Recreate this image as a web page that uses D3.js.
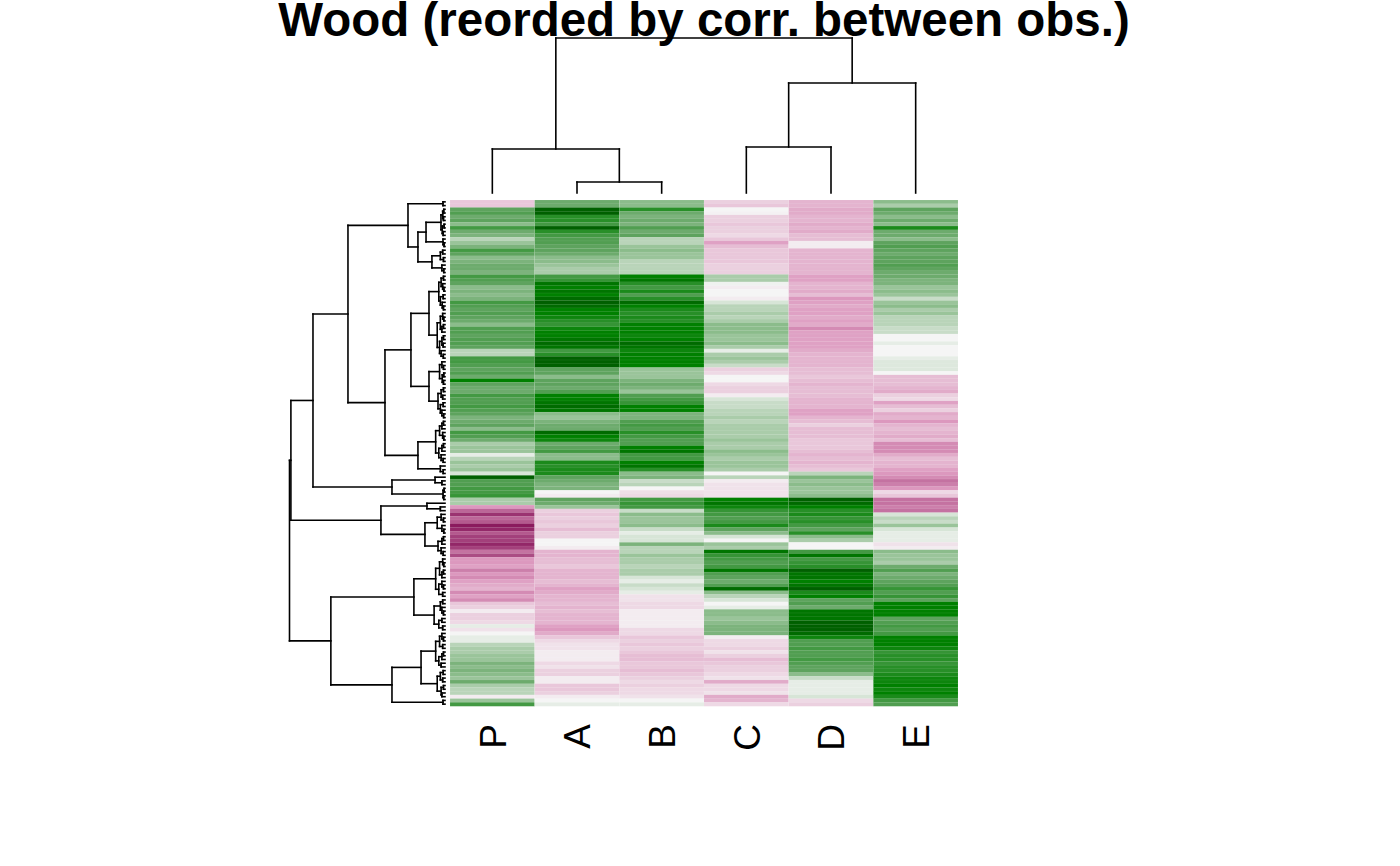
<!DOCTYPE html>
<html>
<head>
<meta charset="utf-8">
<script src="https://cdn.jsdelivr.net/npm/d3@7"></script>
<style>
  body { margin: 0; background: #fff; }
  svg { display: block; }
  .dendro { fill: none; stroke: #000; stroke-width: 1.6; stroke-linecap: square; }
</style>
</head>
<body>
<svg width="1400" height="866"></svg>
<script>
// Column labels, in the order they are drawn
const columns = ["P", "A", "B", "C", "D", "E"];

// Values per column, rows top to bottom (reordered), roughly -1 .. 1
const valP = [
  -0.25, -0.25, 0.5, 0.55, 0.45, 0.5, 0.35, 0.6, 0.45, 0.4, 0.2, 0.3, 0.4, 0.6, 0.5, 0.35, 0.4, 0.45, 0.45, 0.4, 0.6, 0.55,
  0.5, 0.35, 0.4, 0.35, 0.4, 0.6, 0.55, 0.5, 0.55, 0.5, 0.45, 0.35, 0.55, 0.55, 0.5, 0.55, 0.55, 0.5, 0.2, 0.2, 0.6, 0.6,
  0.55, 0.5, 0.55, 0.45, 0.85, 0.5, 0.45, 0.45, 0.6, 0.55, 0.55, 0.6, 0.55, 0.5, 0.4, 0.45, 0.5, 0.35, 0.6, 0.55, 0.45, 0.25, 0.3,
  0.3, 0.05, 0.2, 0.3, 0.25, 0.3, 0.1, 1.0, 0.55, 0.55, 0.6, 0.6, 0.65, 0.25, 0.25, -0.5, -0.7, -0.9, -0.7, -0.75, -1.0, -0.95, -0.75,
  -0.85, -0.85, -0.95, -0.85, -0.65, -0.8, -0.5, -0.5, -0.45, -0.6, -0.5, -0.55, -0.45, -0.4, -0.35, -0.55, -0.45, -0.55, -0.25, -0.2, -0.05, -0.2,
  -0.2, -0.15, 0.05, -0.1, 0.0, 0.05, 0.05, 0.2, 0.25, 0.25, 0.3, 0.3, 0.4, 0.35, 0.4, 0.35, 0.3, 0.45, 0.25, 0.2, 0.2, -0.05, 0.3, 0.6
];
const valA = [
  0.45, 0.45, 1.0, 1.0, 0.7, 0.7, 0.6, 1.0, 0.7, 0.6, 0.55, 0.55, 0.5, 0.5, 0.45, 0.35, 0.35, 0.3, 0.25, 0.25, 0.6, 0.65,
  0.9, 0.85, 0.9, 0.85, 0.95, 1.0, 0.95, 0.85, 0.85, 0.8, 0.7, 0.65, 0.8, 0.85, 0.85, 0.9, 0.95, 0.9, 0.6, 0.7, 1.0, 1.0,
  1.0, 0.5, 0.5, 0.35, 0.5, 0.5, 0.45, 0.55, 0.85, 0.85, 0.9, 0.95, 0.9, 0.35, 0.3, 0.4, 0.45, 0.45, 0.95, 0.85, 0.8, 0.45, 0.5,
  0.6, 0.35, 0.35, 0.75, 0.7, 0.75, 0.75, 0.5, 0.45, 0.4, 0.4, 0.0, -0.05, 0.5, 0.45, 0.3, -0.2, -0.25, -0.2, -0.25, -0.2, -0.3, -0.2,
  -0.2, 0.0, 0.0, -0.05, -0.35, -0.35, -0.3, -0.3, -0.25, -0.35, -0.35, -0.35, -0.3, -0.35, -0.45, -0.4, -0.35, -0.35, -0.3, -0.35, -0.3, -0.35,
  -0.35, -0.35, -0.45, -0.5, -0.4, -0.25, -0.15, -0.1, -0.1, -0.05, -0.05, -0.05, -0.15, -0.1, -0.2, -0.2, -0.05, -0.05, -0.25, -0.25, -0.2, -0.05, 0.0, 0.05
];
const valB = [
  0.35, 0.35, 0.7, 0.45, 0.4, 0.45, 0.4, 0.55, 0.45, 0.5, 0.2, 0.2, 0.3, 0.35, 0.3, 0.3, 0.2, 0.2, 0.2, 0.2, 0.85, 0.9,
  0.7, 0.6, 0.75, 0.55, 0.7, 0.95, 0.85, 0.75, 0.7, 0.75, 0.7, 0.85, 0.85, 0.85, 0.8, 0.85, 0.95, 0.9, 0.8, 0.85, 0.85, 0.85,
  0.85, 0.3, 0.3, 0.3, 0.4, 0.45, 0.4, 0.3, 0.55, 0.6, 0.65, 0.85, 0.85, 0.4, 0.4, 0.55, 0.6, 0.55, 0.7, 0.6, 0.55, 0.55, 0.85,
  0.9, 0.6, 0.6, 0.85, 0.9, 0.7, 0.35, 0.4, 0.15, 0.2, 0.0, -0.12, -0.15, 0.6, 0.65, 0.6, 0.15, 0.35, 0.3, 0.3, 0.35, 0.15, 0.05,
  0.1, 0.1, 0.4, 0.2, 0.2, 0.3, 0.25, 0.25, 0.2, 0.25, 0.25, 0.1, 0.05, 0.15, 0.1, 0.05, -0.1, -0.1, -0.15, -0.15, -0.05, -0.05,
  -0.05, -0.05, -0.05, -0.15, -0.15, -0.25, -0.2, -0.25, -0.2, -0.25, -0.3, -0.3, -0.25, -0.25, -0.3, -0.25, -0.2, -0.15, -0.2, -0.15, -0.15, -0.1, 0.0, 0.05
];
const valC = [
  -0.2, -0.25, 0.0, -0.02, -0.2, -0.2, -0.25, -0.2, -0.2, -0.15, -0.25, -0.45, -0.3, -0.25, -0.25, -0.25, -0.25, -0.2, -0.2, -0.2, 0.25, 0.25,
  0.02, -0.05, 0.0, 0.0, -0.05, 0.1, 0.2, 0.2, 0.25, 0.2, 0.25, 0.35, 0.35, 0.35, 0.3, 0.3, 0.35, 0.25, 0.05, 0.25, 0.3, 0.25,
  0.15, -0.2, -0.15, 0.0, 0.0, -0.15, -0.2, -0.2, -0.05, 0.1, 0.15, 0.15, 0.2, 0.2, 0.25, 0.2, 0.25, 0.25, 0.25, 0.25, 0.3, 0.25, 0.25,
  0.35, 0.3, 0.25, 0.3, 0.3, 0.25, 0.0, 0.2, -0.05, -0.1, -0.1, -0.1, -0.1, 0.85, 0.9, 0.8, 0.65, 0.6, 0.55, 0.6, 0.75, 0.5, 0.35,
  0.1, 0.0, 0.3, 0.25, 0.9, 0.65, 0.6, 0.55, 0.6, 0.9, 0.55, 0.5, 0.45, 0.55, 0.95, 0.35, 0.2, 0.1, 0.0, 0.05, 0.35, 0.35,
  0.3, 0.35, 0.4, 0.4, 0.4, -0.05, -0.15, -0.15, -0.2, -0.1, -0.2, -0.3, -0.25, -0.2, -0.2, -0.15, -0.1, -0.4, -0.15, -0.15, -0.1, -0.4, -0.35, -0.15
];
const valD = [
  -0.35, -0.35, -0.4, -0.4, -0.35, -0.35, -0.4, -0.35, -0.4, -0.3, -0.3, -0.05, -0.05, -0.35, -0.35, -0.35, -0.35, -0.35, -0.35, -0.35, -0.45, -0.45,
  -0.35, -0.35, -0.4, -0.3, -0.5, -0.45, -0.4, -0.45, -0.45, -0.4, -0.45, -0.4, -0.55, -0.45, -0.45, -0.45, -0.45, -0.45, -0.4, -0.35, -0.35, -0.35,
  -0.35, -0.3, -0.3, -0.25, -0.3, -0.35, -0.3, -0.3, -0.3, -0.35, -0.35, -0.35, -0.45, -0.45, -0.35, -0.3, -0.2, -0.3, -0.3, -0.3, -0.25, -0.25, -0.25,
  -0.3, -0.35, -0.3, -0.35, -0.3, -0.25, 0.2, 0.4, 0.3, 0.35, 0.3, 0.3, 0.35, 1.0, 0.95, 0.85, 0.7, 0.75, 0.65, 0.7, 0.6, 0.5, 0.7,
  0.35, 0.25, 0.0, 0.0, 0.6, 0.9, 0.6, 0.65, 0.7, 1.0, 0.9, 0.9, 0.85, 0.9, 1.0, 0.75, 0.85, 0.5, 0.55, 0.45, 0.9, 0.9,
  0.9, 1.0, 1.0, 1.0, 0.95, 0.8, 0.55, 0.55, 0.6, 0.55, 0.55, 0.6, 0.55, 0.5, 0.5, 0.35, 0.15, 0.05, 0.05, 0.05, 0.05, 0.1, -0.15, -0.2
];
const valE = [
  0.35, 0.25, 0.5, 0.45, 0.35, 0.45, 0.35, 0.75, 0.45, 0.45, 0.35, 0.5, 0.55, 0.5, 0.45, 0.5, 0.5, 0.55, 0.5, 0.45, 0.45, 0.4,
  0.4, 0.3, 0.35, 0.3, 0.15, 0.3, 0.35, 0.25, 0.3, 0.2, 0.2, 0.2, 0.15, 0.15, 0.0, 0.0, 0.05, 0.0, 0.0, 0.0, 0.05, 0.08,
  0.08, 0.08, 0.0, -0.3, -0.3, -0.3, -0.35, -0.4, -0.2, -0.15, -0.45, -0.3, -0.2, -0.4, -0.35, -0.5, -0.35, -0.3, -0.35, -0.4, -0.3, -0.55, -0.55,
  -0.55, -0.4, -0.3, -0.35, -0.35, -0.45, -0.5, -0.55, -0.65, -0.6, -0.5, -0.15, -0.25, -0.65, -0.65, -0.6, -0.65, 0.1, 0.2, 0.15, 0.3, 0.1, 0.05,
  0.05, 0.05, -0.1, -0.05, 0.35, 0.3, 0.3, 0.25, 0.45, 0.55, 0.4, 0.45, 0.5, 0.55, 0.65, 0.55, 0.65, 0.5, 0.85, 0.85, 0.85, 0.85,
  0.5, 0.55, 0.6, 0.55, 0.6, 0.85, 0.85, 0.85, 0.8, 0.65, 0.7, 0.7, 0.65, 0.7, 0.7, 0.75, 0.8, 0.8, 0.85, 0.8, 0.85, 0.75, 0.6, 0.55
];

// Column dendrogram: [height, left, right], leaves are column indexes
const colTree = [1.0, [0.284, 0, [0.071, 1, 2]], [0.71, [0.297, 3, 4], 5]];

// Row dendrogram: [height, left, right], leaves are row indexes
const rowTree =
[1.0,
  [0.991,
    [0.849,
      [0.624,
        [0.238,
          [0.013, 0, 1],
          [0.174,
            [0.122,
              [0.026, [0.015, [0.008, 2, 3], [0.01, 4, 5]], [0.018, [0.006, 6, 7], [0.012, 8, 9]]],
              [0.013, 10, [0.006, 11, 12]]],
            [0.084,
              [0.03, [0.015, 13, 14], [0.01, 15, 16]],
              [0.02, 17, [0.008, 18, 19]]]]],
        [0.386,
          [0.219,
            [0.103,
              [0.04, [0.025, [0.01, 20, 21], [0.015, 22, [0.007, 23, 24]]], [0.03, [0.012, 25, 26], [0.018, 27, [0.01, 28, 29]]]],
              [0.05, [0.03, [0.015, 30, [0.008, 31, 32]], [0.02, [0.01, 33, 34], 35]], [0.035, [0.02, [0.01, 36, 37], [0.012, 38, 39]], [0.025, 40, [0.011, 41, 42]]]]],
            [0.103,
              [0.035, [0.02, 43, [0.01, 44, 45]], [0.018, [0.008, 46, 47], [0.01, 48, 49]]],
              [0.045, [0.025, [0.01, 50, 51], [0.015, 52, 53]], [0.03, [0.012, 54, 55], [0.02, 56, [0.009, 57, 58]]]]]],
          [0.174,
            [0.06, [0.035, [0.02, [0.01, 59, 60], 61], [0.015, 62, [0.008, 63, 64]]], [0.04, [0.02, [0.01, 65, 66], 67], [0.025, 68, [0.012, 69, 70]]]],
            [0.03, 71, [0.012, 72, 73]]]]],
      [0.341,
        [0.064, 74, [0.02, 75, 76]],
        [0.013, [0.006, 77, 78], [0.008, 79, 80]]]],
    [0.412,
      [0.116, 81, [0.03, 82, 83]],
      [0.129,
        [0.05, [0.025, 84, [0.01, 85, 86]], [0.02, 87, [0.008, 88, 89]]],
        [0.045, [0.02, [0.01, 90, 91], 92], [0.025, 93, [0.012, 94, 95]]]]]],
  [0.734,
    [0.2,
      [0.06, [0.035, [0.015, 96, [0.008, 97, 98]], [0.02, [0.01, 99, 100], 101]], [0.04, [0.02, 102, [0.01, 103, 104]], [0.015, 105, 106]]],
      [0.07, [0.03, [0.015, 107, 108], [0.02, 109, [0.01, 110, 111]]], [0.04, [0.02, 112, 113], [0.015, 114, 115]]]],
    [0.341,
      [0.154,
        [0.06, [0.035, [0.02, 116, [0.01, 117, 118]], [0.015, 119, 120]], [0.04, [0.02, [0.01, 121, 122], 123], [0.025, 124, 125]]],
        [0.05, [0.03, [0.012, 126, 127], [0.015, 128, 129]], [0.025, [0.01, 130, 131], [0.02, 132, 133]]]],
      [0.013, 134, 135]]]];

const values = [valP, valA, valB, valC, valD, valE];
const rows = d3.range(valP.length);

const svg = d3.select("svg");
svg.append("rect").attr("width", 1400).attr("height", 866).attr("fill", "#fff");

// heatmap area
const x = d3.scaleBand().domain(d3.range(columns.length)).range([450, 958]);
const y = d3.scaleBand().domain(rows).range([200, 706]);

const color = d3.scaleLinear()
    .domain([-1, -0.5, 0, 0.5, 0.85, 1])
    .range(["#8b1a5e", "#dc98be", "#f5f5f5", "#5ea35e", "#008000", "#006000"])
    .clamp(true);

const cells = [];
values.forEach((col, c) => col.forEach((v, r) => cells.push({c, r, v})));

svg.append("g").selectAll("rect")
  .data(cells)
  .enter()
  .append("rect")
    .attr("x", d => x(d.c))
    .attr("y", d => y(d.r))
    .attr("width", x.bandwidth())
    .attr("height", y.bandwidth() + 0.3)
    .attr("fill", d => color(d.v))
    .attr("stroke", "#fff")
    .attr("stroke-opacity", 0.18)
    .attr("stroke-width", 0.4);

// dendrogram drawing: leaf axis position + height axis
function drawTree(g, tree, leafPos, hPos, horizontal) {
  const seg = (a1, h1, a2, h2) => horizontal
      ? g.append("line").attr("class", "dendro").attr("x1", hPos(h1)).attr("y1", a1).attr("x2", hPos(h2)).attr("y2", a2)
      : g.append("line").attr("class", "dendro").attr("x1", a1).attr("y1", hPos(h1)).attr("x2", a2).attr("y2", hPos(h2));

  function walk(node) {
    if (typeof node === "number") return {pos: leafPos(node), h: 0};
    const [h, l, r] = node;
    const a = walk(l), b = walk(r);
    seg(a.pos, h, b.pos, h);       // connecting bar
    seg(a.pos, h, a.pos, a.h);     // drop to left child
    seg(b.pos, h, b.pos, b.h);     // drop to right child
    return {pos: (a.pos + b.pos) / 2, h};
  }
  walk(tree);
}

const rowH = d3.scaleLinear().domain([0, 1]).range([445, 289.5]);
drawTree(svg.append("g"), rowTree, r => y(r) + y.bandwidth() / 2, rowH, true);

const colH = d3.scaleLinear().domain([0, 1]).range([193, 38]);
drawTree(svg.append("g"), colTree, c => x(c) + x.bandwidth() / 2, colH, false);

// column labels
svg.append("g").selectAll("text")
  .data(columns)
  .enter()
  .append("text")
    .attr("transform", (d, i) => `translate(${x(i) + x.bandwidth() / 2},724) rotate(-90)`)
    .attr("text-anchor", "end")
    .attr("dy", "0.36em")
    .attr("font-family", "Liberation Sans, Arial, Helvetica, sans-serif")
    .attr("font-size", 37)
    .text(d => d);

// title
svg.append("text")
  .attr("x", 704)
  .attr("y", 36)
  .attr("text-anchor", "middle")
  .attr("font-family", "Liberation Sans, Arial, Helvetica, sans-serif")
  .attr("font-weight", "bold")
  .attr("font-size", 47.5)
  .text("Wood (reorded by corr. between obs.)");
</script>
</body>
</html>
